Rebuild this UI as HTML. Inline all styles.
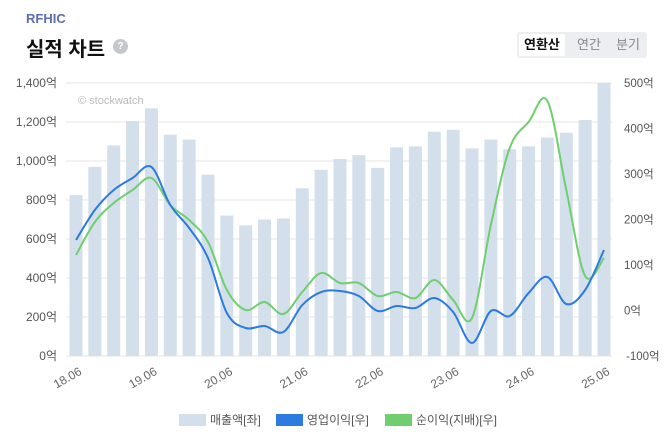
<!DOCTYPE html><html><head><meta charset="utf-8"><style>
body{margin:0;width:669px;height:435px;background:#fff;font-family:"Liberation Sans","Noto Sans CJK KR",sans-serif;position:relative;overflow:hidden}
.t1{position:absolute;left:26px;top:11px;font-size:13px;font-weight:bold;color:#5d6db3}
.t2{position:absolute;left:26px;top:33px;font-size:20px;font-weight:bold;color:#111}
.q{position:absolute;left:113px;top:39px;width:15px;height:15px;border-radius:50%;background:#c4c7cd;color:#fff;font-size:10px;text-align:center;line-height:15px;font-weight:bold}
.btns{position:absolute;left:517px;top:32px;width:130px;height:26px;background:#eceef2;border-radius:3px;font-size:13px}
.btns span{position:absolute;top:0;line-height:26px;color:#888}
.act{left:2px;top:2px!important;line-height:22px!important;background:#fff;color:#111!important;font-weight:bold;padding:0 5px;border-radius:2px}
</style></head><body>
<div class="t1">RFHIC</div>
<div class="t2">실적 차트</div>
<div class="q">?</div>
<div class="btns"><span class="act">연환산</span><span style="left:60px">연간</span><span style="left:99px">분기</span></div>
<svg id="c" width="669" height="435" style="position:absolute;left:0;top:0" font-family="Liberation Sans, Noto Sans CJK KR, sans-serif"></svg>
<script>
var s='';
for(var i=0;i<8;i++){var y=356-i*39;s+='<line x1="66" x2="612" y1="'+y+'" y2="'+y+'" stroke="#e6e6e6"/>';
s+='<text x="57" y="'+(y+4)+'" font-size="12" fill="#555" text-anchor="end">'+(i==0?'0':(i*200).toLocaleString('en-US'))+'억</text>';}
for(var i=0;i<7;i++){var y=356-i*45.5;s+='<text x="'+(i==0?626:624)+'" y="'+(y+4)+'" font-size="11.5" fill="#555">'+((i-1)*100)+'억</text>';}
s+='<text x="78" y="104" font-size="11" fill="#bbb">© stockwatch</text>';
var bars=[825,970,1080,1205,1270,1135,1110,930,720,670,700,705,860,955,1010,1030,965,1070,1075,1150,1160,1065,1110,1060,1075,1120,1145,1210,1400];
var X=function(i){return 76+i*18.857};
bars.forEach(function(v,i){var h=v*0.195;s+='<rect x="'+(X(i)-6.5)+'" y="'+(356-h)+'" width="13" height="'+h+'" fill="#d3dfeb"/>'});
function path(ys,col){var p=ys.map(function(y,i){return [X(i),y]});var d='M'+p[0][0]+','+p[0][1];
for(var i=0;i<p.length-1;i++){var a=p[Math.max(0,i-1)],b=p[i],c=p[i+1],e=p[Math.min(p.length-1,i+2)];
d+=' C'+(b[0]+(c[0]-a[0])/6)+','+(b[1]+(c[1]-a[1])/6)+' '+(c[0]-(e[0]-b[0])/6)+','+(c[1]-(e[1]-b[1])/6)+' '+c[0]+','+c[1];}
return '<path d="'+d+'" fill="none" stroke="'+col+'" stroke-width="2"/>';}
var blue=[240,210,190,178,167,205,228,258,313,328,326,332,305,292,291,296,311,306,308,298,312,343,311,316,293,277,304,290,250];
var green=[255,222,203,190,178,205,220,242,290,310,302,314,292,273,283,283,296,292,298,280,300,318,225,148,122,101,190,276,258];
s+=path(green,'#6fcf6f')+path(blue,'#2b7be0');
['18.06','19.06','20.06','21.06','22.06','23.06','24.06','25.06'].forEach(function(t,i){var x=X(i*4)+2,y=366;
s+='<text transform="translate('+x+','+y+') rotate(-30)" font-size="12" fill="#666" text-anchor="end" dy="9">'+t+'</text>'});
s+='<rect x="179" y="414" width="27" height="12" fill="#d3dfeb"/><text x="210" y="424" font-size="12" fill="#555">매출액[좌]</text>';
s+='<rect x="276" y="414" width="27" height="12" fill="#2b7be0"/><text x="307" y="424" font-size="12" fill="#555">영업이익[우]</text>';
s+='<rect x="385" y="414" width="27" height="12" fill="#6fcf6f"/><text x="416" y="424" font-size="12" fill="#555">순이익(지배)[우]</text>';
document.getElementById('c').innerHTML=s;
</script>
</body></html>
